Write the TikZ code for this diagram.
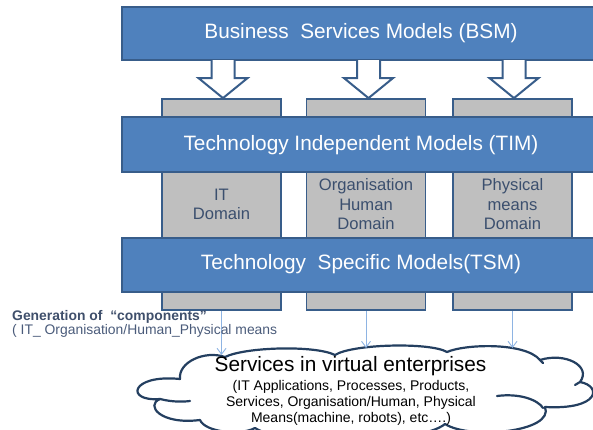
\documentclass[tikz,border=0pt]{standalone}
\usepackage{fontspec}
\setmainfont{Liberation Sans}
\usetikzlibrary{calc,arrows.meta}
\definecolor{barfill}{HTML}{4F81BD}
\definecolor{barline}{HTML}{385D8A}
\definecolor{colfill}{HTML}{BFBFBF}
\definecolor{coltext}{HTML}{3B4F6E}
\definecolor{cloudc}{HTML}{243F60}
\definecolor{thinarrowc}{HTML}{8EB4E3}
\definecolor{gentext}{HTML}{3F4F6B}
\definecolor{gentexttwo}{HTML}{4A5B7A}
\begin{document}
\begin{tikzpicture}[x=1pt,y=-1pt,
  bar/.style={draw=barline,line width=2pt,fill=barfill,minimum width=478pt,minimum height=55pt,inner sep=0pt,text=white,font=\fontsize{20.8}{25}\selectfont},
  domainbox/.style={draw=barline,line width=1.8pt,fill=colfill,minimum width=119pt,minimum height=211pt,inner sep=0pt,align=center,text=coltext,font=\fontsize{16.6}{19.5}\selectfont},
  blockarrow/.style={draw=barline,line width=2pt,fill=white,line join=miter},
  thinarrow/.style={draw=thinarrowc,line width=0.9pt,-{Straight Barb[length=6pt,width=9pt]}},
  cloudline/.style={draw=cloudc,line width=2.2pt,line cap=round,line join=round},
]
\useasboundingbox (0,0) rectangle (593,430);
\clip (0,0) rectangle (593,430);
% domain columns
\node[domainbox] (c1) at (221.5,204.5) {IT\\Domain};
\node[domainbox] (c2) at (366,204.5) {Organisation\\Human\\Domain};
\node[domainbox] (c3) at (512.5,204.5) {Physical\\means\\Domain};
% bars
\node[bar,minimum height=53pt] (bsm) at (361,33.5) {Business\ \ Services Models (BSM)};
\node[bar] (tim) at (361,145) {Technology Independent Models (TIM)};
\node[bar,minimum height=54pt] (tsm) at (361,264.5) {Technology\ \ Specific Models(TSM)};
% block arrows
\foreach \c/\dx in {c1/1.5,c2/2.5,c3/1.5}{
  \filldraw[blockarrow] ($(\c.north)+(\dx-11.5,-38)$) -- ++(0,18) -- ++(-13,0)
     -- ($(\c.north)+(\dx,0)$) -- ++(24.5,-20) -- ++(-13,0) -- ++(0,-18);
}
% cloud
\filldraw[cloudline,fill=white]
  (180,379) .. controls (178,362) and (205,350) .. (225,357)
  .. controls (245,347) and (315,345) .. (335,355)
  .. controls (352,344) and (430,342) .. (447,352)
  .. controls (465,344) and (525,342) .. (540,360)
  .. controls (565,352) and (592,366) .. (580,382)
  .. controls (602,386) and (600,410) .. (545,407)
  .. controls (555,432) and (470,440) .. (445,424)
  .. controls (420,445) and (280,445) .. (255,428)
  .. controls (240,436) and (205,432) .. (200,420)
  .. controls (160,425) and (145,405) .. (160,399)
  .. controls (125,402) and (130,374) .. (180,379) -- cycle;
\draw[cloudline] (160,399) .. controls (172,402) and (182,402) .. (190,401);
\draw[cloudline] (497,396) .. controls (520,393) and (538,400) .. (543,408);
\draw[cloudline] (540,360) .. controls (541,362) .. (543,363);
\draw[cloudline] (580,382) .. controls (578,384) .. (575,385);
% thin arrows
\coordinate (t1) at (221.5,355);
\coordinate (t2) at (366,348);
\coordinate (t3) at (512.5,348);
\draw[thinarrow] (c1.south) -- (t1);
\draw[thinarrow] (c2.south) -- (t2);
\draw[thinarrow] (c3.south) -- (t3);
% texts
\node[anchor=base,inner sep=0pt,font=\fontsize{20.8}{25}\selectfont] (svc) at (350.5,371.7) {Services in virtual enterprises};
\node[anchor=north,align=center,inner sep=0pt,font=\fontsize{14}{16}\selectfont] (svcsub) at (351,380.5) {(IT Applications, Processes, Products,\\Services, Organisation/Human, Physical\\Means(machine, robots), etc….)};
\node[anchor=base west,inner sep=0pt,text=gentext,font=\bfseries\fontsize{13.9}{16}\selectfont] (gen1) at (12,320.8) {Generation of\ \ “components”};
\node[anchor=base west,inner sep=0pt,text=gentexttwo,font=\fontsize{13.9}{16}\selectfont] (gen2) at (12,334) {( IT\_ Organisation/Human\_Physical means};
\end{tikzpicture}
\end{document}
